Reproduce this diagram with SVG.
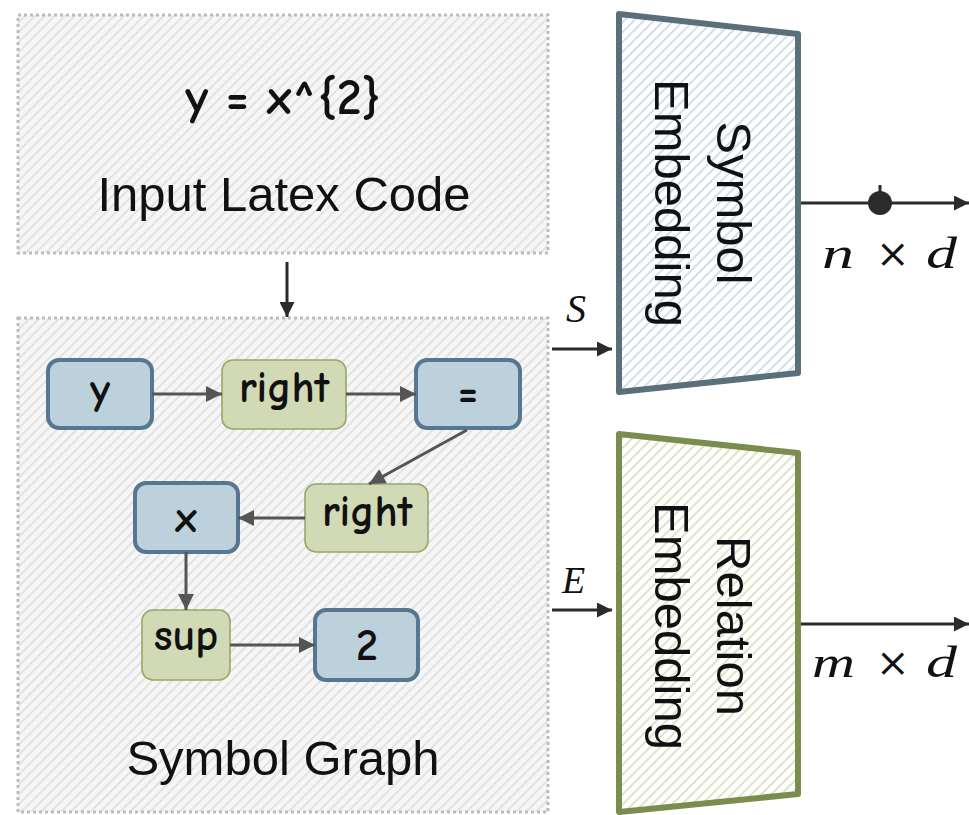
<svg xmlns="http://www.w3.org/2000/svg" width="969" height="815" viewBox="0 0 969 815">
  <defs>
    <pattern id="hatchGray" patternUnits="userSpaceOnUse" width="7" height="7" patternTransform="rotate(45)">
      <rect width="7" height="7" fill="#f6f6f6"/>
      <line x1="1" y1="0" x2="1" y2="7" stroke="#dedede" stroke-width="1.6"/>
    </pattern>
    <pattern id="hatchBlue" patternUnits="userSpaceOnUse" width="7" height="7" patternTransform="rotate(45)">
      <rect width="7" height="7" fill="#ffffff"/>
      <line x1="1" y1="0" x2="1" y2="7" stroke="#d3dee8" stroke-width="2"/>
    </pattern>
    <pattern id="hatchGreen" patternUnits="userSpaceOnUse" width="7" height="7" patternTransform="rotate(45)">
      <rect width="7" height="7" fill="#ffffff"/>
      <line x1="1" y1="0" x2="1" y2="7" stroke="#dde3c6" stroke-width="2"/>
    </pattern>
    <marker id="headGray" viewBox="0 0 10 10" refX="10" refY="5" markerUnits="userSpaceOnUse" markerWidth="18" markerHeight="16" orient="auto">
      <path d="M0,0 L10,5 L0,10 Z" fill="#555555"/>
    </marker>
    <marker id="headDark" viewBox="0 0 10 10" refX="10" refY="5" markerUnits="userSpaceOnUse" markerWidth="16" markerHeight="15" orient="auto">
      <path d="M0,0 L10,5 L0,10 Z" fill="#2b2b2b"/>
    </marker>
    <style>
      .panel { fill: url(#hatchGray); stroke: #bdbdbd; stroke-width: 3; stroke-dasharray: 3 3; }
      .sym { fill: #bdd1dc; stroke: #56778f; stroke-width: 4; }
      .rel { fill: #d1d9b5; stroke: #98a76a; stroke-width: 1.6; }
      .nlabel { font-family: "Comic Neue", "Noto Sans", "DejaVu Sans", sans-serif; font-size: 44px; font-weight: bold; fill: #111; text-anchor: middle; }
      .big { font-family: "Liberation Sans", Arial, sans-serif; font-size: 49px; fill: #111; text-anchor: middle; }
      .edge { stroke: #555555; stroke-width: 3; fill: none; marker-end: url(#headGray); }
      .flow { stroke: #2b2b2b; stroke-width: 3; fill: none; marker-end: url(#headDark); }
      .math { font-family: "Liberation Serif", "Times New Roman", serif; font-style: italic; font-size: 44px; fill: #111; }
      .times { font-family: "DejaVu Serif", "Liberation Serif", serif; font-size: 40px; fill: #111; }
    </style>
  </defs>

  <!-- source panel -->
  <g id="input-latex">
    <rect class="panel" x="18" y="15" width="530" height="238"/>
    <text class="nlabel" x="283" y="114" style="font-size:50px">y = x^{2}</text>
    <text class="big" x="284" y="211">Input Latex Code</text>
  </g>

  <!-- graph panel -->
  <g id="symbol-graph">
    <rect class="panel" x="18" y="318" width="530" height="494"/>
    <text class="big" x="283" y="775">Symbol Graph</text>
  </g>

  <g id="node-y">
    <rect class="sym" x="48" y="360" width="104" height="68" rx="11"/>
    <text class="nlabel" x="100" y="404">y</text>
  </g>
  <g id="node-right1">
    <rect class="rel" x="222" y="360" width="124" height="69" rx="11"/>
    <text class="nlabel" x="284" y="402">right</text>
  </g>
  <g id="node-eq">
    <rect class="sym" x="416" y="360" width="104" height="68" rx="11"/>
    <text class="nlabel" x="468" y="407">=</text>
  </g>
  <g id="node-right2">
    <rect class="rel" x="305" y="484" width="123" height="68" rx="11"/>
    <text class="nlabel" x="367" y="526">right</text>
  </g>
  <g id="node-x">
    <rect class="sym" x="135" y="483" width="103" height="69" rx="11"/>
    <text class="nlabel" x="186" y="532">x</text>
  </g>
  <g id="node-sup">
    <rect class="rel" x="142" y="610" width="88" height="70" rx="11"/>
    <text class="nlabel" x="186" y="650">sup</text>
  </g>
  <g id="node-2">
    <rect class="sym" x="315" y="610" width="103" height="70" rx="11"/>
    <text class="nlabel" x="367" y="660">2</text>
  </g>

  <!-- embedding blocks -->
  <g id="symbol-embedding">
    <path d="M619,14 L798,34 L798,373 L619,392 Z" fill="url(#hatchBlue)" stroke="#5b6f7a" stroke-width="6" stroke-linejoin="round"/>
    <g transform="translate(717,203) rotate(90)">
      <text class="big" x="0" y="0">Symbol</text>
      <text class="big" x="0" y="62">Embedding</text>
    </g>
  </g>
  <g id="relation-embedding">
    <path d="M619,434 L798,453 L798,794 L619,812 Z" fill="url(#hatchGreen)" stroke="#7a8c4e" stroke-width="6" stroke-linejoin="round"/>
    <g transform="translate(717,626) rotate(90)">
      <text class="big" x="0" y="0">Relation</text>
      <text class="big" x="0" y="62">Embedding</text>
    </g>
  </g>

  <!-- connectors -->
  <g id="connectors">
    <line class="edge" x1="152" y1="394" x2="222" y2="394"/>
    <line class="edge" x1="346" y1="394" x2="416" y2="394"/>
    <line class="edge" x1="467" y1="430" x2="369" y2="484"/>
    <line class="edge" x1="305" y1="518" x2="238" y2="518"/>
    <line class="edge" x1="186" y1="552" x2="186" y2="610"/>
    <line class="edge" x1="230" y1="645" x2="315" y2="645"/>

    <line class="flow" x1="287" y1="262" x2="287" y2="317"/>
    <line class="flow" x1="552" y1="349" x2="612" y2="349"/>
    <line class="flow" x1="552" y1="610" x2="612" y2="610"/>
    <line class="flow" x1="801" y1="203" x2="969" y2="203"/>
    <line x1="880" y1="185" x2="880" y2="200" stroke="#2b2b2b" stroke-width="3"/>
    <circle cx="880" cy="203" r="12" fill="#2b2b2b"/>
    <line class="flow" x1="801" y1="624" x2="969" y2="624"/>
  </g>

  <!-- labels on the flows -->
  <g id="flow-labels">
    <text class="math" x="566" y="322" style="font-size:40px">S</text>
    <text class="math" x="562" y="593" style="font-size:38px">E</text>
    <text class="math" x="822" y="268" textLength="32" lengthAdjust="spacingAndGlyphs">n</text>
    <text class="times" x="876" y="267">×</text>
    <text class="math" x="926" y="268" textLength="31" lengthAdjust="spacingAndGlyphs">d</text>
    <text class="math" x="812" y="677" textLength="43" lengthAdjust="spacingAndGlyphs">m</text>
    <text class="times" x="876" y="676">×</text>
    <text class="math" x="926" y="677" textLength="31" lengthAdjust="spacingAndGlyphs">d</text>
  </g>
</svg>
